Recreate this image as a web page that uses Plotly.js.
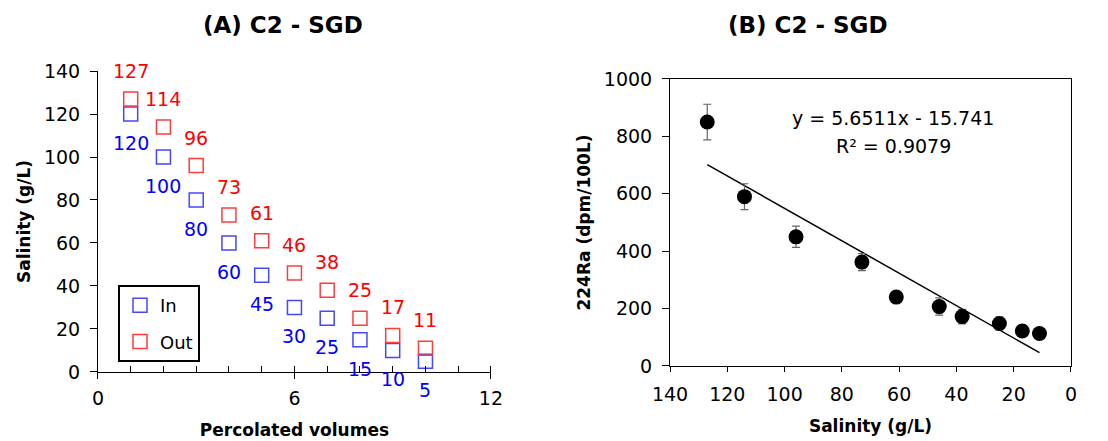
<!DOCTYPE html>
<html><head><meta charset="utf-8">
<script src="https://cdn.plot.ly/plotly-3.0.1.min.js"></script>
<style>html,body{margin:0;padding:0;background:#fff}#chart{width:1108px;height:441px}</style>
</head><body><div id="chart"></div>
<script>
// Panel A data
const volumes = [1, 2, 3, 4, 5, 6, 7, 8, 9, 10];
const salinityIn = [120, 100, 80, 60, 45, 30, 25, 15, 10, 5];
const salinityOut = [127, 114, 96, 73, 61, 46, 38, 25, 17, 11];
// Panel B data
const ra224 = [850, 590, 450, 362, 240, 207, 172, 148, 122, 113];
const ra224Err = [62, 45, 37, 30, 15, 30, 25, 22, 15, 12];
const trendX = [127, 11];
const trendY = [701.9, 46.4];
const equationText = 'y = 5.6511x - 15.741';
const r2Text = 'R² = 0.9079';
const titleA = '(A) C2 - SGD';
const titleB = '(B) C2 - SGD';

const FONT = '"DejaVu Sans", sans-serif';
const BLUE = '#0000ff', RED = '#ff0000';

const traces = [
  {x: volumes, y: salinityIn, name: 'In', type: 'scatter', mode: 'markers', xaxis: 'x', yaxis: 'y',
   legendgroup: 'in', cliponaxis: false,
   marker: {symbol: 'square-open', size: 14, color: 'rgb(70,70,255)', line: {width: 1.5}}},
  {x: volumes, y: salinityOut, name: 'Out', type: 'scatter', mode: 'markers', xaxis: 'x', yaxis: 'y',
   legendgroup: 'out', cliponaxis: false,
   marker: {symbol: 'square-open', size: 14, color: 'rgb(255,60,60)', line: {width: 1.5}}},
  {x: trendX, y: trendY, type: 'scatter', mode: 'lines', xaxis: 'x2', yaxis: 'y2', showlegend: false,
   line: {color: '#000', width: 1.5}},
  {x: salinityOut, y: ra224, type: 'scatter', mode: 'markers', xaxis: 'x2', yaxis: 'y2', showlegend: false,
   marker: {symbol: 'circle', size: 15, color: '#000'},
   error_y: {type: 'data', array: ra224Err, visible: true, color: '#666', thickness: 1.2, width: 4}}
];

const annotations = [];
volumes.forEach((v, i) => {
  annotations.push({x: v, y: salinityOut[i], xref: 'x', yref: 'y', text: String(salinityOut[i]),
    xanchor: 'center', yanchor: 'middle',
    showarrow: false, yshift: 28, font: {family: FONT, size: 19, color: RED}});
  annotations.push({x: v, y: salinityIn[i], xref: 'x', yref: 'y', text: String(salinityIn[i]),
    xanchor: 'center', yanchor: 'middle',
    showarrow: false, yshift: -29, font: {family: FONT, size: 19, color: BLUE}});
});
const cen = {xref: 'paper', yref: 'paper', xanchor: 'center', yanchor: 'middle', showarrow: false};
annotations.push(Object.assign({x: 283 / 1108, y: 1 - 25 / 441, text: titleA,
  font: {family: FONT, size: 23, weight: 'bold', color: '#000'}}, cen));
annotations.push(Object.assign({x: 808 / 1108, y: 1 - 25 / 441, text: titleB,
  font: {family: FONT, size: 23, weight: 'bold', color: '#000'}}, cen));
annotations.push(Object.assign({x: 893 / 1108, y: 1 - 118 / 441, text: equationText,
  font: {family: FONT, size: 19, color: '#000'}}, cen));
annotations.push(Object.assign({x: 893 / 1108, y: 1 - 146 / 441, text: r2Text,
  font: {family: FONT, size: 19, color: '#000'}}, cen));

const axisBase = {showgrid: false, zeroline: false, showline: true, linecolor: '#000', linewidth: 1,
  tickcolor: '#000', tickwidth: 1, ticks: 'outside', tickfont: {family: FONT, size: 19, color: '#000'}};
const titleFont = {family: FONT, size: 17, weight: 'bold', color: '#000'};

const layout = {
  width: 1108, height: 441, margin: {l: 0, r: 0, t: 0, b: 0},
  paper_bgcolor: '#fff', plot_bgcolor: '#fff', font: {family: FONT, color: '#000'},
  xaxis: Object.assign({}, axisBase, {domain: [0.0884, 0.4431], range: [0, 12], tick0: 0, dtick: 6,
    ticklen: 6, anchor: 'y', minor: {dtick: 1, tick0: 0, ticks: 'inside', ticklen: 6, tickcolor: '#000'},
    ticklabelstandoff: 3,
    title: {text: 'Percolated volumes', font: titleFont, standoff: 16}}),
  yaxis: Object.assign({}, axisBase, {domain: [0.1565, 0.839], range: [0, 140], dtick: 20, ticklen: 7,
    anchor: 'x', ticklabelstandoff: 6, title: {text: 'Salinity (g/L)', font: titleFont, standoff: 8}}),
  xaxis2: Object.assign({}, axisBase, {domain: [0.6047, 0.9666], range: [140, 0], dtick: 20, ticklen: 5,
    anchor: 'y2', mirror: true, ticklabelstandoff: 6,
    title: {text: 'Salinity (g/L)', font: titleFont, standoff: 16}}),
  yaxis2: Object.assign({}, axisBase, {domain: [0.1701, 0.8209], range: [0, 1000], dtick: 200, ticklen: 7,
    anchor: 'x2', mirror: true, ticklabelstandoff: 6,
    title: {text: '224Ra (dpm/100L)', font: titleFont, standoff: 8}}),
  legend: {x: 0.1065, y: 0.3537, xanchor: 'left', yanchor: 'top', bordercolor: '#000', borderwidth: 2,
    bgcolor: '#fff', font: {family: FONT, size: 18, color: '#000'}, tracegroupgap: 10, itemwidth: 30},
  showlegend: true,
  annotations: annotations
};

Plotly.newPlot('chart', traces, layout, {displayModeBar: false, staticPlot: true});
</script></body></html>
